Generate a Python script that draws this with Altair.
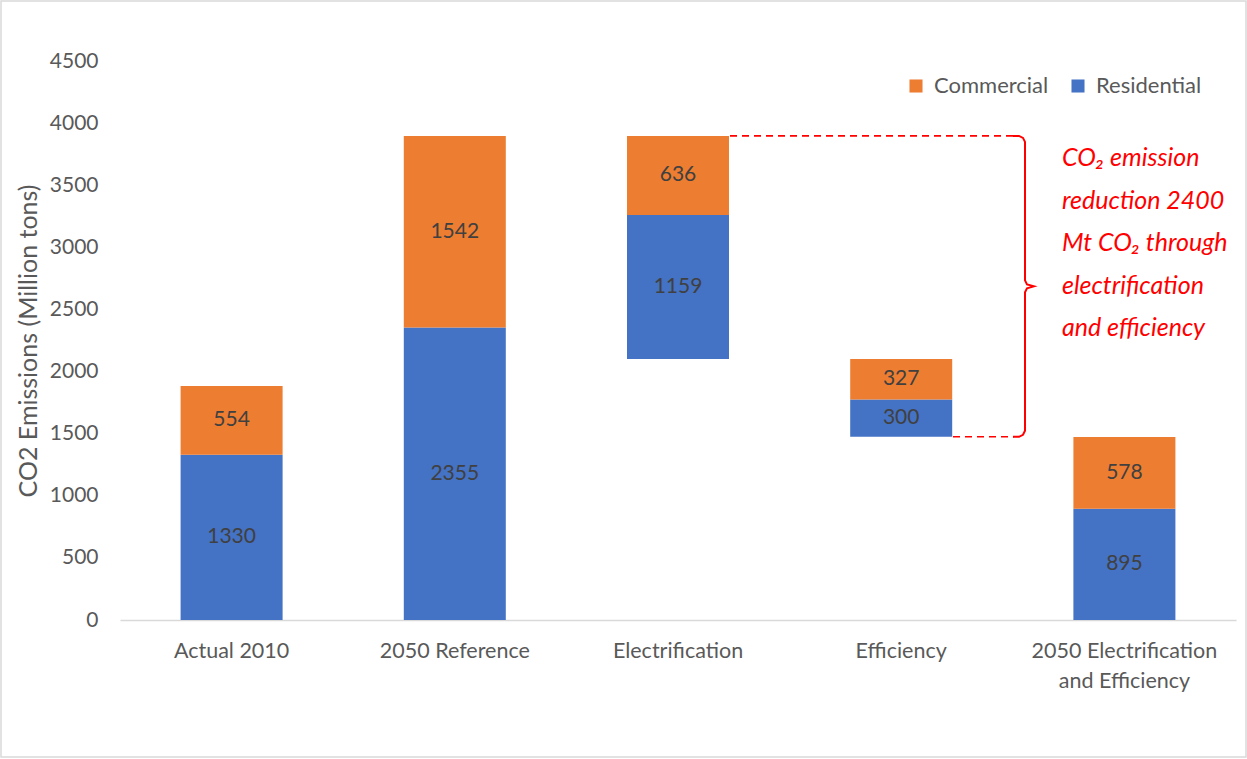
import altair as alt
import pandas as pd

# ---- data ----
categories = ["Actual 2010", "2050 Reference", "Electrification", "Efficiency",
              "2050 Electrification|and Efficiency"]
residential = [1330, 2355, 1159, 300, 895]
commercial = [554, 1542, 636, 327, 578]
bar_kind = ["total", "total", "delta", "delta", "total"]
series = ["Commercial", "Residential"]
colors = ["#ED7D31", "#4472C4"]
y_ticks = [0, 500, 1000, 1500, 2000, 2500, 3000, 3500, 4000, 4500]
note_lines = ["CO\u2082 emission", "reduction 2400", "Mt CO\u2082 through",
              "electrification", "and efficiency"]

# ---- waterfall table ----
rows = []
level = 0
tops, bases = {}, {}
for cat, r, c, k in zip(categories, residential, commercial, bar_kind):
    base = 0 if k == "total" else level - r - c
    rows.append(dict(cat=cat, series="Residential", y0=base, y1=base + r, mid=base + r / 2, val=r))
    rows.append(dict(cat=cat, series="Commercial", y0=base + r, y1=base + r + c, mid=base + r + c / 2, val=c))
    tops[cat] = base + r + c
    bases[cat] = base
    level = base + r + c if k == "total" else base
bars = pd.DataFrame(rows)

T = tops["Electrification"]
B = bases["Efficiency"]
M = (T + B) / 2

FONT = "Lato"
W, H = 1116, 559
X0 = 120  # plot left in page pixels

band = alt.Scale(paddingInner=0.54, paddingOuter=0.27)
x_axis = alt.Axis(title=None, labelExpr="split(datum.label, '|')",
                  labelFont=FONT, labelFontSize=21.5, labelColor="#595959",
                  labelPadding=20, labelAngle=0, ticks=False, labelLimit=400,
                  domainColor="#D9D9D9", domainWidth=1.5, labelLineHeight=30)
y_scale = alt.Scale(domain=[0, 4500], nice=False)
y_axis = alt.Axis(title="CO2 Emissions (Million tons)", values=y_ticks,
                  format="d", grid=False, domain=False, ticks=False,
                  labelFont=FONT, labelFontSize=21, labelColor="#595959",
                  labelPadding=22, titleFont=FONT, titleFontSize=25,
                  titleFontWeight="normal", titleColor="#595959",
                  titlePadding=8)

bar_layer = alt.Chart(bars).mark_bar(size=102).encode(
    x=alt.X("cat:N", sort=categories, scale=band, axis=x_axis),
    y=alt.Y("y0:Q", scale=y_scale, axis=y_axis),
    y2="y1:Q",
    color=alt.Color("series:N", scale=alt.Scale(domain=series, range=colors),
                    legend=alt.Legend(title=None, orient="none", legendX=785, legendY=14,
                                      direction="horizontal", symbolType="square",
                                      symbolSize=170, symbolStrokeWidth=0,
                                      labelFont=FONT, labelFontSize=22,
                                      labelColor="#595959", labelOffset=7,
                                      columnPadding=18)),
)

text_layer = alt.Chart(bars).mark_text(font=FONT, fontSize=21, color="#404040").encode(
    x=alt.X("cat:N", sort=categories, scale=band, axis=x_axis),
    y=alt.Y("mid:Q", scale=y_scale, axis=y_axis),
    text="val:Q",
)

bars_block = alt.layer(bar_layer, text_layer)

# ---- annotation (page-pixel x, data y) ----
px = alt.Scale(domain=[0, W], nice=False, zero=False)
dash_df = pd.DataFrame([
    dict(x=730 - X0, x2=1014 - X0, y=T),
    dict(x=953 - X0, x2=1014 - X0, y=B),
])
dash_layer = alt.Chart(dash_df).mark_rule(color="#FF0000", strokeWidth=1.6,
                                           strokeDash=[7, 5]).encode(
    x=alt.X("x:Q", scale=px, axis=None),
    x2="x2:Q",
    y=alt.Y("y:Q", scale=y_scale, axis=y_axis),
)

k = 8.05  # data units per pixel
brace_pts = [
    (1013, T), (1019, T), (1023, T - 2 * k), (1025, T - 6 * k),
    (1025, M + 6 * k), (1027, M + 2 * k), (1034, M),
    (1027, M - 2 * k), (1025, M - 6 * k),
    (1025, B + 6 * k), (1023, B + 2 * k), (1019, B), (1013, B),
]
brace_df = pd.DataFrame([dict(i=i, x=p[0] - X0, y=p[1]) for i, p in enumerate(brace_pts)])
brace_layer = alt.Chart(brace_df).mark_line(color="#FF0000", strokeWidth=2).encode(
    x=alt.X("x:Q", scale=px, axis=None),
    y=alt.Y("y:Q", scale=y_scale, axis=y_axis),
    order="i:Q",
)

annot_block = alt.layer(dash_layer, brace_layer)

note_layer = alt.Chart(pd.DataFrame({"t": ["\n".join(note_lines)]})).mark_text(
    font=FONT, fontSize=25, fontStyle="italic", color="#FF0000",
    align="left", baseline="middle", lineBreak="\n", lineHeight=42.5,
).encode(x=alt.value(1062 - X0), y=alt.value(158 - 61), text="t:N")

border = alt.Chart(pd.DataFrame({"a": [0]})).mark_rect(
    fill="transparent", stroke="#D9D9D9", strokeWidth=1.5
).encode(x=alt.value(-119), x2=alt.value(1126), y=alt.value(-60), y2=alt.value(696))

chart = alt.layer(
    bars_block, annot_block, note_layer, border
).resolve_scale(x="independent").properties(
    width=W, height=H,
    autosize=alt.AutoSizeParams(type="none"),
    padding={"left": X0, "top": 61, "right": 11, "bottom": 139},
    background="white",
).configure_view(stroke=None)

chart.save("out.html", embed_options={"renderer": "svg", "actions": False})
